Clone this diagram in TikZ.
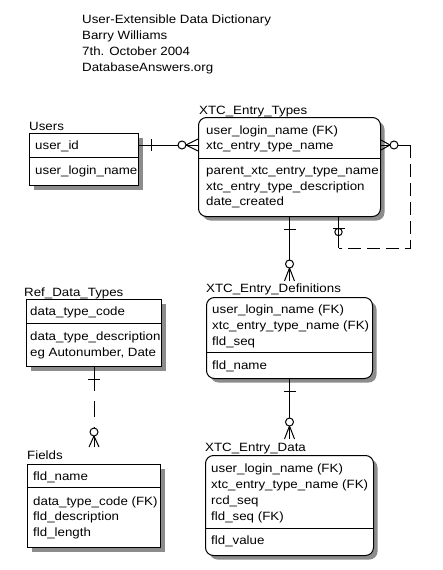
\documentclass[tikz,border=0pt]{standalone}
\usepackage{fontspec}
\setmainfont{Liberation Sans}[FakeStretch=1.11]
\usetikzlibrary{calc,shadows}
\tikzset{
  entity/.style={draw, line width=1pt, fill=white, anchor=north west, inner sep=0pt,
    drop shadow={shadow xshift=4pt, shadow yshift=-4pt, opacity=1, fill=black!45}},
  dependent/.style={entity, rounded corners=8pt},
  ename/.style={anchor=west, inner sep=0pt, text height=8.6pt, text depth=0pt},
  attr/.style={ename},
  rel/.style={line width=1pt},
  optrel/.style={rel, dash pattern=on 13pt off 6pt},
}
\begin{document}
\begin{tikzpicture}[x=1pt, y=-1pt, font=\fontsize{12}{16}\selectfont, line cap=butt]
	\useasboundingbox (0,0) rectangle (443,570);
	% title
	\node[ename] (t1) at (82,19) {User-Extensible Data Dictionary};
	\node[ename] (t2) at (82,35) {Barry Williams};
	\node[ename] (t3) at (82,51) {7th. October 2004};
	\node[ename] (t4) at (82,67) {DatabaseAnswers.org};
	% Users
	\node[ename] (usersname) at (29,126) {Users};
	\node[entity, minimum width=109pt, minimum height=52pt] (users) at (29,133) {};
	\draw[rel] ($(users.north west)+(0,24)$) -- ($(users.north east)+(0,24)$);
	\node[attr] (uid) at (35,145) {user\_id};
	\node[attr] (ulogin) at (35,170) {user\_login\_name};
	% XTC_Entry_Types
	\node[ename] (typesname) at (199,110) {XTC\_Entry\_Types};
	\node[dependent, minimum width=182pt, minimum height=99pt] (types) at (198,117) {};
	\draw[rel] ($(types.north west)+(0,41)$) -- ($(types.north east)+(0,41)$);
	\node[attr] (tlogin) at (206,130) {user\_login\_name (FK)};
	\node[attr] (tname) at (206,145) {xtc\_entry\_type\_name};
	\node[attr] (tparent) at (206,170) {parent\_xtc\_entry\_type\_name};
	\node[attr] (tdesc) at (206,186) {xtc\_entry\_type\_description};
	\node[attr] (tdate) at (206,201) {date\_created};
	% XTC_Entry_Definitions
	\node[ename] (defsname) at (206,288) {XTC\_Entry\_Definitions};
	\node[dependent, minimum width=166pt, minimum height=81pt] (defs) at (206,297) {};
	\draw[rel] ($(defs.north west)+(0,55)$) -- ($(defs.north east)+(0,55)$);
	\node[attr] (dlogin) at (212,309) {user\_login\_name (FK)};
	\node[attr] (dname) at (212,325) {xtc\_entry\_type\_name (FK)};
	\node[attr] (dseq) at (212,341) {fld\_seq};
	\node[attr] (dfld) at (212,365) {fld\_name};
	% XTC_Entry_Data
	\node[ename] (dataname) at (205,447) {XTC\_Entry\_Data};
	\node[dependent, minimum width=168pt, minimum height=100pt] (data) at (205,455) {};
	\draw[rel] ($(data.north west)+(0,73)$) -- ($(data.north east)+(0,73)$);
	\node[attr] (xlogin) at (211,468) {user\_login\_name (FK)};
	\node[attr] (xname) at (211,484) {xtc\_entry\_type\_name (FK)};
	\node[attr] (xrcd) at (211,500) {rcd\_seq};
	\node[attr] (xseq) at (211,516) {fld\_seq (FK)};
	\node[attr] (xval) at (211,540) {fld\_value};
	% Ref_Data_Types
	\node[ename] (refname) at (24,292) {Ref\_Data\_Types};
	\node[entity, minimum width=135pt, minimum height=67pt] (ref) at (26,299) {};
	\draw[rel] ($(ref.north west)+(0,24)$) -- ($(ref.north east)+(0,24)$);
	\node[attr] (rcode) at (30,311) {data\_type\_code};
	\node[attr] (rdesc) at (30,336) {data\_type\_description};
	\node[attr] (reg) at (30,352) {eg Autonumber, Date};
	% Fields
	\node[ename] (fieldsname) at (27,455) {Fields};
	\node[entity, minimum width=133pt, minimum height=83pt] (fields) at (27,464) {};
	\draw[rel] ($(fields.north west)+(0,23)$) -- ($(fields.north east)+(0,23)$);
	\node[attr] (fname) at (33,476) {fld\_name};
	\node[attr] (fcode) at (33,501) {data\_type\_code (FK)};
	\node[attr] (fdesc) at (33,516.5) {fld\_description};
	\node[attr] (flen) at (33,532) {fld\_length};
	% Users -- XTC_Entry_Types
	\draw[rel] (users.east |- uid) -- (types.west |- uid);
	\draw[rel] ($(users.east |- uid)+(12,-6)$) -- ++(0,12);
	\draw[rel, fill=white] ($(types.west |- uid)+(-16,0)$) circle (4);
	\draw[rel] ($(types.west |- uid)+(-12,0)$) -- ($(types.west |- uid)+(0,-6)$)
		($(types.west |- uid)+(-12,0)$) -- ($(types.west |- uid)+(0,6)$);
	% parent entry type
	\coordinate (selfA) at ($(types.east |- tname)+(29,0)$);
	\coordinate (selfC) at ($(types.south)+(49,31)$);
	\coordinate (selfB) at (selfA |- selfC);
	\draw[rel] (types.east |- tname) -- (selfA);
	\draw[optrel] (selfA) -- (selfB) -- (selfC);
	\draw[rel] (selfC) -- (types.south -| selfC);
	\draw[rel, fill=white] ($(types.east |- tname)+(13,0)$) circle (4);
	\draw[rel] ($(types.east |- tname)+(9,0)$) -- ++(-9,-5) ($(types.east |- tname)+(9,0)$) -- ++(-9,5);
	\draw[rel] ($(types.south -| selfC)+(-6,11)$) -- ++(12,0);
	\draw[rel] ($(types.south -| selfC)+(0,15)$) circle (3.7);
	% XTC_Entry_Types -- XTC_Entry_Definitions
	\draw[rel] (types.south) -- ($(defs.north)+(0,-16)$);
	\draw[rel] ($(types.south)+(-6,12)$) -- ++(12,0);
	\draw[rel, fill=white] ($(defs.north)+(0,-33)$) circle (4);
	\draw[rel] ($(defs.north)+(0,-29)$) -- ($(defs.north)+(-5,-16)$)
		($(defs.north)+(0,-29)$) -- ($(defs.north)+(5,-16)$);
	% XTC_Entry_Definitions -- XTC_Entry_Data
	\draw[rel] (defs.south) -- ($(data.north)+(0,-16)$);
	\draw[rel] ($(defs.south)+(-6,12)$) -- ++(12,0);
	\draw[rel, fill=white] ($(data.north)+(0,-33)$) circle (4);
	\draw[rel] ($(data.north)+(0,-29)$) -- ($(data.north)+(-5,-16)$)
		($(data.north)+(0,-29)$) -- ($(data.north)+(5,-16)$);
	% Ref_Data_Types -- Fields
	\draw[rel, dash pattern=on 24pt off 10pt on 16pt off 10pt on 40pt off 0pt] (ref.south) -- ($(fields.north)+(0,-17)$);
	\draw[rel] ($(ref.south)+(-6,12)$) -- ++(12,0);
	\draw[rel, fill=white] ($(fields.north)+(0,-32)$) circle (4);
	\draw[rel] ($(fields.north)+(0,-28)$) -- ($(fields.north)+(-5,-17)$)
		($(fields.north)+(0,-28)$) -- ($(fields.north)+(5,-17)$);
\end{tikzpicture}
\end{document}
